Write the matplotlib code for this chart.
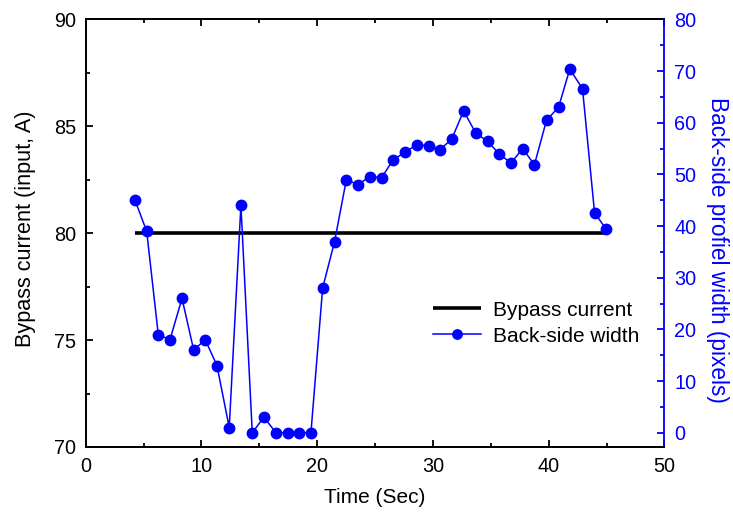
import matplotlib
matplotlib.use("Agg")
import matplotlib.pyplot as plt
from matplotlib.ticker import MultipleLocator

plt.rcParams['font.family'] = ['Liberation Sans', 'DejaVu Sans']

# Time samples (s) and back-side profile width (pixels)
time_s = [4.26, 5.27, 6.27, 7.28, 8.32, 9.33, 10.33, 11.34, 12.40, 13.41,
          14.39, 15.40, 16.43, 17.44, 18.45, 19.46, 20.47, 21.50, 22.52, 23.53,
          24.53, 25.56, 26.56, 27.57, 28.58, 29.62, 30.62, 31.63, 32.65, 33.70,
          34.72, 35.72, 36.74, 37.74, 38.77, 39.81, 40.85, 41.82, 42.92, 43.96,
          44.96]
width_px = [45, 39, 19, 18, 26, 16, 18, 13, 1, 44,
            0, 3, 0, 0, 0, 0, 28, 37, 49, 48,
            49.6, 49.4, 52.8, 54.3, 55.7, 55.6, 54.8, 56.9, 62.3, 58,
            56.4, 54, 52.2, 55, 51.9, 60.5, 63, 70.4, 66.6, 42.6,
            39.4]

# Bypass current (A), constant over the run
bypass_t = [4.26, 44.96]
bypass_a = [80, 80]

fig = plt.figure(figsize=(7.33, 5.17), dpi=100)
ax = fig.add_axes([0.1169, 0.1354, 0.7896, 0.8269])
ax2 = ax.twinx()

l1, = ax.plot(bypass_t, bypass_a, color='black', lw=2.6, solid_capstyle='butt',
              label='Bypass current')
l2, = ax2.plot(time_s, width_px, color='blue', lw=1.1, marker='o', ms=7.5,
               markerfacecolor='blue', markeredgecolor='blue',
               label='Back-side width')

ax.set_xlim(0, 50)
ax.set_ylim(70, 90)
ax2.set_ylim(-2.77, 80)

ax.xaxis.set_major_locator(MultipleLocator(10))
ax.xaxis.set_minor_locator(MultipleLocator(5))
ax.yaxis.set_major_locator(MultipleLocator(5))
ax.yaxis.set_minor_locator(MultipleLocator(2.5))
ax2.yaxis.set_major_locator(MultipleLocator(10))
ax2.yaxis.set_minor_locator(MultipleLocator(5))

ax.tick_params(which='both', direction='in', top=True, right=False,
               labelsize=14.3, width=1.3)
ax.tick_params(which='major', length=5, pad=7)
ax.tick_params(which='minor', length=3)
ax2.tick_params(which='both', direction='in', colors='blue', labelsize=14.3,
                width=1.3)
ax2.tick_params(which='major', length=5, pad=7)
ax2.tick_params(which='minor', length=3)

for s in ['left', 'bottom', 'top']:
    ax.spines[s].set_linewidth(1.3)
    ax2.spines[s].set_linewidth(1.3)
ax2.spines['right'].set_color('blue')
ax2.spines['right'].set_linewidth(1.3)
ax.spines['right'].set_visible(False)

ax.set_xlabel('Time (Sec)', fontsize=15)
ax.xaxis.set_label_coords(0.5, -0.095)
ax.set_ylabel('Bypass current (input, A)', fontsize=15.6)
ax.yaxis.set_label_coords(-0.086, 0.511)
ax2.set_ylabel('Back-side profiel width (pixels)', fontsize=16.3, color='blue',
               rotation=270)
ax2.yaxis.set_label_coords(1.112, 0.461)

ax2.legend([l1, l2], ['Bypass current', 'Back-side width'], frameon=False,
           fontsize=15, loc='upper left', bbox_to_anchor=(0.568, 0.386),
           handlelength=2.3, handletextpad=0.58, labelspacing=0.33,
           markerscale=0.9)

fig.savefig('out.png', dpi=100)
